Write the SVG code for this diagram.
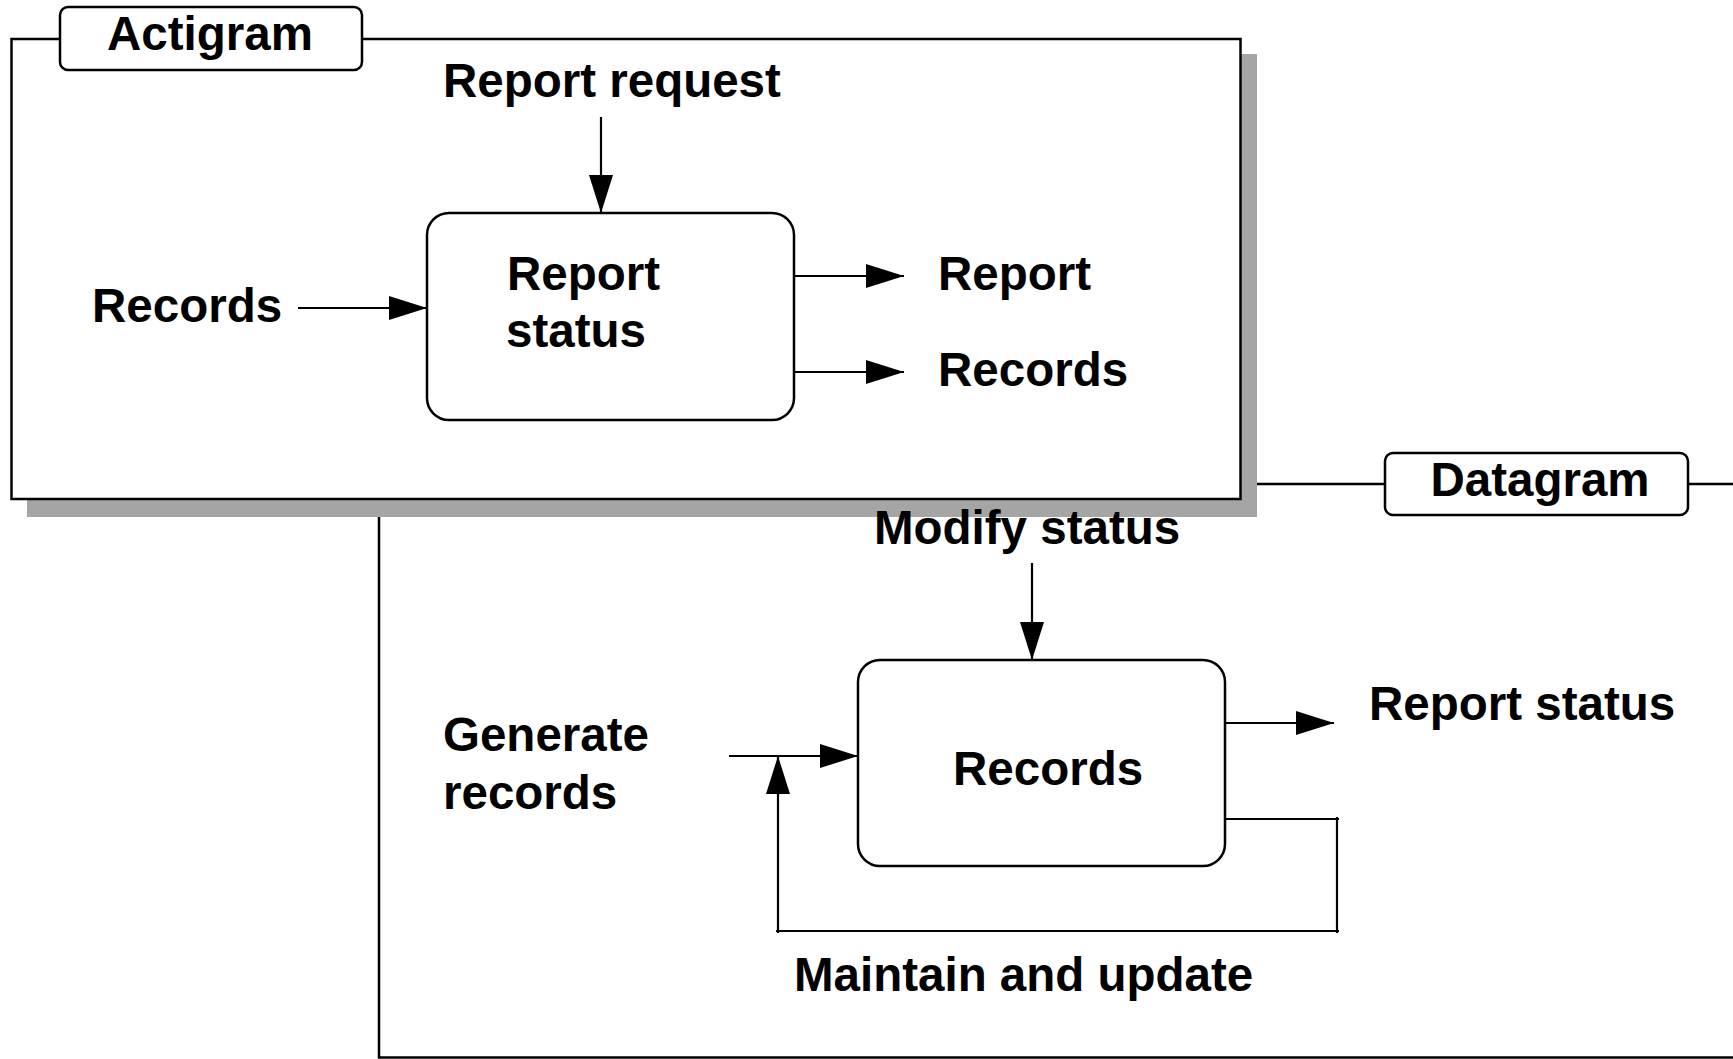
<svg xmlns="http://www.w3.org/2000/svg" width="1733" height="1059" viewBox="0 0 1733 1059">
<defs>
<marker id="ah" viewBox="0 0 38 24" refX="38" refY="12" markerWidth="38" markerHeight="24" markerUnits="userSpaceOnUse" orient="auto">
<path d="M0,0 L38,12 L0,24 Z" fill="#000"/>
</marker>
</defs>
<style>
text{font-family:"Liberation Sans",Arial,Helvetica,sans-serif;font-weight:bold;font-size:47.5px;fill:#000}
.frame{fill:none;stroke:#000;stroke-width:2.5}
.box{fill:#fff;stroke:#000;stroke-width:2.5}
.conn{fill:none;stroke:#000;stroke-width:2.2}
</style>
<rect width="1733" height="1059" fill="#fff"/>
<g id="datagram-frame">
<path class="frame" d="M379,484 L379,1057.5 L1735,1057.5 M379,484 L1735,484"/>
</g>
<g id="actigram-frame">
<rect x="27" y="54" width="1230" height="463" fill="#a5a5a5"/>
<rect x="11.5" y="39" width="1229" height="460" fill="#fff" stroke="#000" stroke-width="2.5"/>
</g>
<g id="actigram-label">
<rect class="box" x="60" y="7" width="302" height="63" rx="8"/>
<text x="210" y="50" text-anchor="middle">Actigram</text>
</g>
<g id="datagram-label">
<rect class="box" x="1385" y="453" width="303" height="62" rx="8"/>
<text x="1540" y="496" text-anchor="middle">Datagram</text>
</g>
<g id="report-status-node">
<rect class="box" x="427" y="213" width="367" height="207" rx="22"/>
<text x="507" y="290">Report</text>
<text x="506" y="347">status</text>
</g>
<g id="records-node">
<rect class="box" x="858" y="660" width="367" height="206" rx="22"/>
<text x="953" y="785">Records</text>
</g>
<g id="labels">
<text x="443" y="97">Report request</text>
<text x="92" y="322">Records</text>
<text x="938" y="290">Report</text>
<text x="938" y="386">Records</text>
<text x="874" y="544">Modify status</text>
<text x="443" y="751">Generate</text>
<text x="443" y="809">records</text>
<text x="1369" y="720">Report status</text>
<text x="794" y="991">Maintain and update</text>
</g>
<g id="connectors">
<line class="conn" x1="601" y1="117" x2="601" y2="213" marker-end="url(#ah)"/>
<line class="conn" x1="298" y1="308" x2="427" y2="308" marker-end="url(#ah)"/>
<line class="conn" x1="794" y1="276" x2="904" y2="276" marker-end="url(#ah)"/>
<line class="conn" x1="794" y1="372" x2="904" y2="372" marker-end="url(#ah)"/>
<line class="conn" x1="1032" y1="563" x2="1032" y2="660" marker-end="url(#ah)"/>
<line class="conn" x1="1225" y1="723" x2="1334" y2="723" marker-end="url(#ah)"/>
<line class="conn" x1="729" y1="756" x2="858" y2="756" marker-end="url(#ah)"/>
<path class="conn" d="M1225,819 L1339,819 M1337,817 L1337,933 M1339,931 L776,931 M778,933 L778,756" marker-end="url(#ah)"/>
</g>
</svg>
